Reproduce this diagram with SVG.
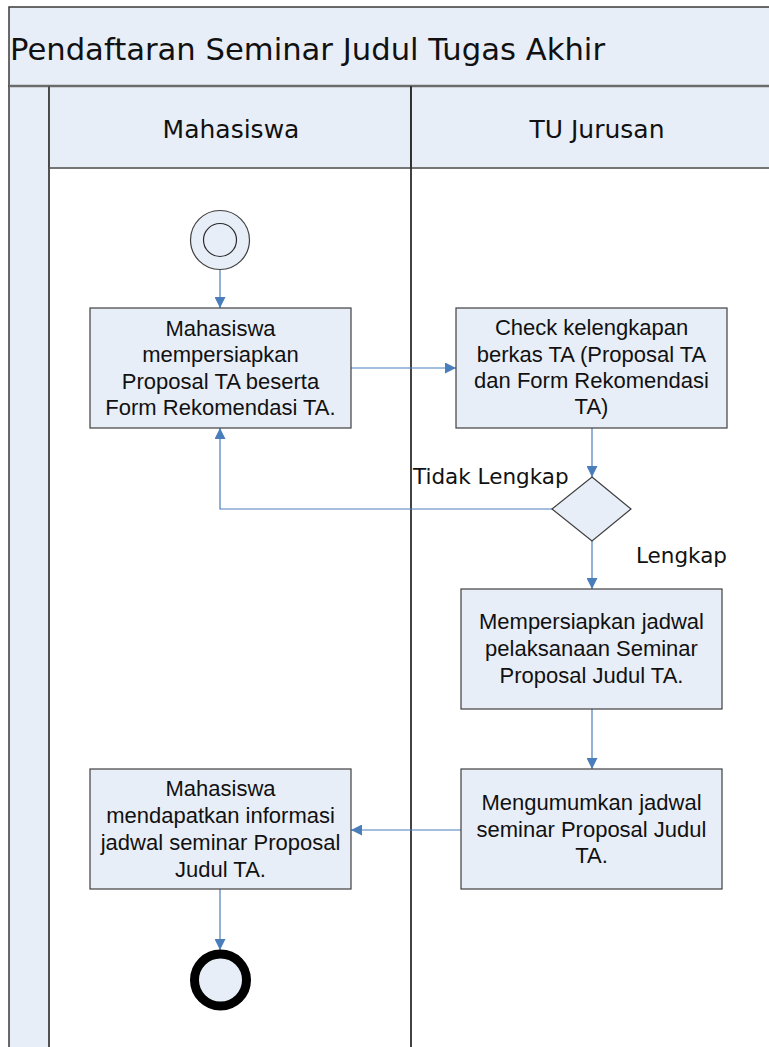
<svg xmlns="http://www.w3.org/2000/svg" width="769" height="1047" viewBox="0 0 769 1047">
  <style>
    .pool { fill: #E8EEF7; stroke: #3a3a3a; stroke-width: 1.5; }
    .body { fill: #ffffff; stroke: none; }
    .node { fill: #E8EEF7; stroke: #3f3f3f; stroke-width: 1.2; }
    .lbl { font-family: "Liberation Sans", Arial, sans-serif; font-size: 22px; fill: #111; text-anchor: middle; }
    .hdr { font-family: "DejaVu Sans", Verdana, sans-serif; fill: #111; }
    .flow { fill: none; stroke: #4A7EBB; stroke-width: 1.2; }
  </style>
  <defs>
    <marker id="arrow" viewBox="0 0 10 10" refX="10" refY="5" markerUnits="userSpaceOnUse" markerWidth="11" markerHeight="11" orient="auto">
      <path d="M0,0 L10,5 L0,10 z" fill="#4A7EBB"/>
    </marker>
  </defs>

  <!-- pool frame and lanes -->
  <g id="pool">
    <rect class="body" x="49" y="168" width="740" height="890"/>
    <rect class="pool" x="9" y="7" width="780" height="79"/>
    <rect class="pool" x="9" y="86" width="40" height="980"/>
    <rect class="pool" x="49" y="86" width="362" height="82"/>
    <rect class="pool" x="411" y="86" width="380" height="82"/>
    <line x1="9" y1="86" x2="769" y2="86" stroke="#6b6b6b" stroke-width="2.5"/>
    <line x1="49" y1="168" x2="769" y2="168" stroke="#7a7a7a" stroke-width="1.5"/>
    <line x1="411" y1="86" x2="411" y2="1047" stroke="#2e2e2e" stroke-width="1.8"/>
    <line x1="49" y1="86" x2="49" y2="1047" stroke="#4a4a4a" stroke-width="1.5"/>
    <text class="hdr" x="10" y="60" font-size="30.5" textLength="595" lengthAdjust="spacingAndGlyphs">Pendaftaran Seminar Judul Tugas Akhir</text>
  </g>
  <g id="lane-mahasiswa">
    <text class="hdr" x="231" y="138" font-size="25" text-anchor="middle">Mahasiswa</text>
  </g>
  <g id="lane-tu">
    <text class="hdr" x="597" y="138" font-size="25" text-anchor="middle">TU Jurusan</text>
  </g>

  <!-- connectors -->
  <g id="connectors">
    <path class="flow" d="M220,269 L220,308" marker-end="url(#arrow)"/>
    <path class="flow" d="M351,368 L456,368" marker-end="url(#arrow)"/>
    <path class="flow" d="M592,428 L592,477" marker-end="url(#arrow)"/>
    <path class="flow" d="M552,509 L220,509 L220,428" marker-end="url(#arrow)"/>
    <path class="flow" d="M592,541 L592,589" marker-end="url(#arrow)"/>
    <path class="flow" d="M592,709 L592,769" marker-end="url(#arrow)"/>
    <path class="flow" d="M461,830 L351,830" marker-end="url(#arrow)"/>
    <path class="flow" d="M220,889 L220,950" marker-end="url(#arrow)"/>
    <text class="hdr" x="413" y="484" font-size="21.5">Tidak Lengkap</text>
    <text class="hdr" x="636" y="563" font-size="21.5">Lengkap</text>
  </g>

  <!-- nodes -->
  <g id="start">
    <circle cx="220" cy="240" r="29.5" class="node"/>
    <circle cx="220" cy="240" r="16.5" fill="none" stroke="#2a2a2a" stroke-width="1.2"/>
  </g>
  <g id="siapkan-proposal">
    <rect class="node" x="90" y="308" width="261" height="120"/>
    <text class="lbl" x="220.5" y="336">Mahasiswa</text>
    <text class="lbl" x="220.5" y="362">mempersiapkan</text>
    <text class="lbl" x="220.5" y="389">Proposal TA beserta</text>
    <text class="lbl" x="220.5" y="415">Form Rekomendasi TA.</text>
  </g>
  <g id="check-berkas">
    <rect class="node" x="456" y="308" width="271" height="120"/>
    <text class="lbl" x="591.5" y="335">Check kelengkapan</text>
    <text class="lbl" x="591.5" y="362">berkas TA (Proposal TA</text>
    <text class="lbl" x="591.5" y="388">dan Form Rekomendasi</text>
    <text class="lbl" x="591.5" y="414">TA)</text>
  </g>
  <g id="keputusan">
    <polygon class="node" points="592,477 631,509 592,541 552,509"/>
  </g>
  <g id="siapkan-jadwal">
    <rect class="node" x="461" y="589" width="261" height="120"/>
    <text class="lbl" x="591.5" y="629">Mempersiapkan jadwal</text>
    <text class="lbl" x="591.5" y="656">pelaksanaan Seminar</text>
    <text class="lbl" x="591.5" y="683">Proposal Judul TA.</text>
  </g>
  <g id="umumkan-jadwal">
    <rect class="node" x="461" y="769" width="261" height="120"/>
    <text class="lbl" x="591.5" y="810">Mengumumkan jadwal</text>
    <text class="lbl" x="591.5" y="837">seminar Proposal Judul</text>
    <text class="lbl" x="591.5" y="863">TA.</text>
  </g>
  <g id="terima-informasi">
    <rect class="node" x="90" y="769" width="261" height="120"/>
    <text class="lbl" x="220.5" y="796">Mahasiswa</text>
    <text class="lbl" x="220.5" y="823">mendapatkan informasi</text>
    <text class="lbl" x="220.5" y="850">jadwal seminar Proposal</text>
    <text class="lbl" x="220.5" y="877">Judul TA.</text>
  </g>
  <g id="end">
    <circle cx="220.5" cy="980" r="26" fill="#E8EEF7" stroke="#000" stroke-width="9"/>
  </g>
</svg>
